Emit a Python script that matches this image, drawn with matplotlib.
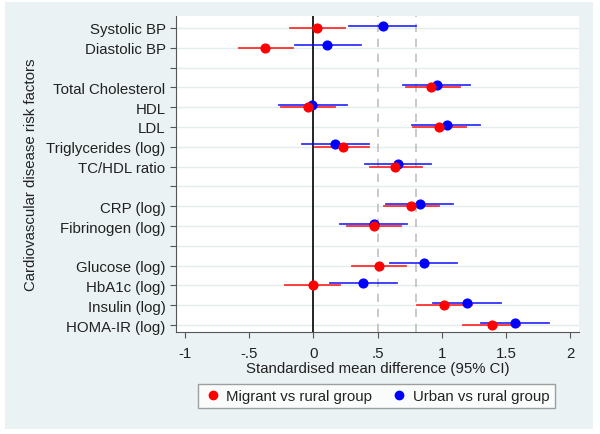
import numpy as np
import matplotlib.pyplot as plt
from matplotlib.patches import Rectangle
from matplotlib.lines import Line2D

plt.rcParams['font.family'] = ['Liberation Sans', 'DejaVu Sans']

# row labels ('' = spacer rows)
labels = ['Systolic BP', 'Diastolic BP', '',
          'Total Cholesterol', 'HDL', 'LDL', 'Triglycerides (log)', 'TC/HDL ratio', '',
          'CRP (log)', 'Fibrinogen (log)', '',
          'Glucose (log)', 'HbA1c (log)', 'Insulin (log)', 'HOMA-IR (log)']

# migrant vs rural (None for spacer rows)
mig_est = [0.03, -0.38, None, 0.92, -0.04, 0.98, 0.23, 0.64, None, 0.76, 0.47, None, 0.51, 0.00, 1.02, 1.39]
mig_lo = [-0.18, -0.58, None, 0.72, -0.25, 0.78, 0.01, 0.44, None, 0.55, 0.26, None, 0.30, -0.22, 0.81, 1.17]
mig_hi = [0.25, -0.16, None, 1.14, 0.17, 1.19, 0.43, 0.85, None, 0.98, 0.68, None, 0.72, 0.21, 1.24, 1.61]

# urban vs rural
urb_est = [0.54, 0.11, None, 0.96, -0.01, 1.04, 0.17, 0.66, None, 0.83, 0.47, None, 0.86, 0.39, 1.20, 1.57]
urb_lo = [0.28, -0.14, None, 0.70, -0.27, 0.77, -0.09, 0.40, None, 0.57, 0.21, None, 0.60, 0.13, 0.93, 1.31]
urb_hi = [0.80, 0.37, None, 1.22, 0.26, 1.30, 0.43, 0.92, None, 1.09, 0.73, None, 1.12, 0.65, 1.46, 1.84]

xticks = [-1, -0.5, 0, 0.5, 1, 1.5, 2]
xticklabels = ['-1', '-.5', '0', '.5', '1', '1.5', '2']

red = '#ff0000'
blue = '#0000ff'
fs = 10.8

fig = plt.figure(figsize=(6, 4.35), dpi=100)
fig.patch.set_facecolor('white')
fig.patches.append(Rectangle((5 / 600, 1 - 430 / 435), 588 / 600, 427 / 435,
                             transform=fig.transFigure, facecolor='#eaf2f3',
                             edgecolor='none', zorder=-1))

ax = fig.add_axes([176 / 600, 1 - 333 / 435, 403 / 600, 316 / 435])
ax.set_facecolor('white')

rows = np.arange(1, len(labels) + 1)

for y in rows:
    ax.axhline(y, color='#e3ecee', lw=1, zorder=0)
ax.axvline(0, color='black', lw=1.2, zorder=1)
ax.axvline(0.5, color='#c0c0c0', lw=1.2, ls=(0, (5, 4)), zorder=1)
ax.axvline(0.8, color='#c0c0c0', lw=1.2, ls=(0, (5, 4)), zorder=1)

for i, y in enumerate(rows):
    if urb_est[i] is None:
        continue
    yb = y - 0.12
    ax.plot([urb_lo[i], urb_hi[i]], [yb, yb], color=blue, lw=1.3, alpha=0.8, zorder=2)
    ax.plot([mig_lo[i], mig_hi[i]], [y, y], color=red, lw=1.3, alpha=0.8, zorder=2)
    ax.plot(urb_est[i], yb, 'o', color=blue, ms=6.3, zorder=3)
    ax.plot(mig_est[i], y, 'o', color=red, ms=6.3, zorder=4)

ax.set_xlim(-1.07, 2.07)
ax.set_ylim(16.35, 0.4)
ax.set_yticks(rows)
ax.set_yticklabels(labels, fontsize=fs, color='#222222')
ax.set_xticks(xticks)
ax.set_xticklabels(xticklabels, fontsize=fs, color='#222222')
ax.tick_params(color='#555555', length=4)
ax.tick_params(axis='x', pad=6)
for s in ['top', 'right']:
    ax.spines[s].set_visible(False)
for s in ['left', 'bottom']:
    ax.spines[s].set_color('#555555')

ax.set_xlabel('Standardised mean difference (95% CI)', fontsize=fs, labelpad=1, color='#222222')
ax.set_ylabel('Cardiovascular disease risk factors', fontsize=fs, labelpad=6, color='#222222')

handles = [Line2D([], [], ls='none', marker='o', color=red, ms=6),
           Line2D([], [], ls='none', marker='o', color=blue, ms=6)]
fig.legend(handles, ['Migrant vs rural group', 'Urban vs rural group'],
           loc='center', bbox_to_anchor=(376.5 / 600, 1 - 397 / 435), ncol=2,
           fontsize=fs, frameon=True, fancybox=False, edgecolor='#888888',
           handletextpad=0.3, columnspacing=1.2, handlelength=1.2,
           borderpad=0.35, labelcolor='#222222')

fig.savefig('out.png', dpi=100)
